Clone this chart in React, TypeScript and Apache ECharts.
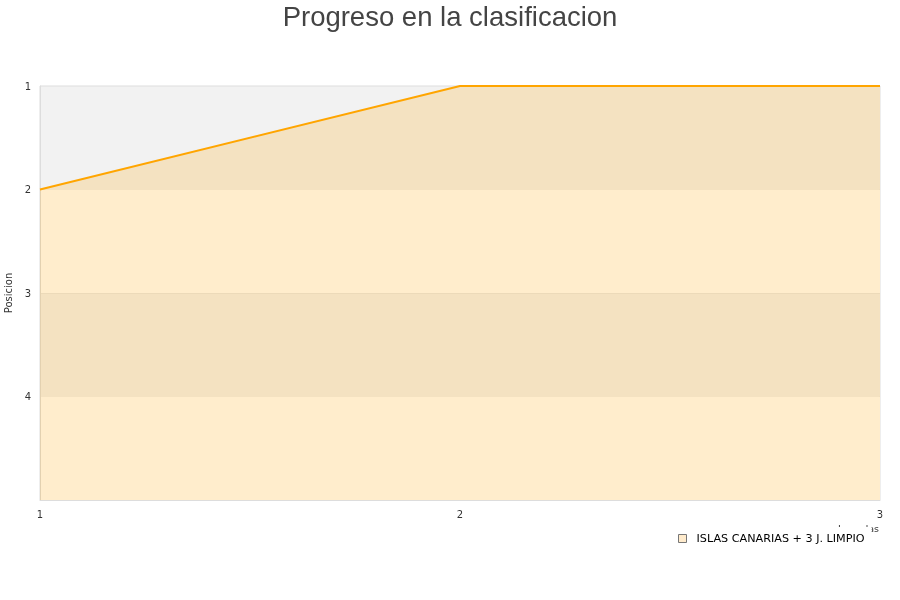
import React, { useEffect, useRef } from "react";
import * as echarts from "echarts";

const jornadas = ["1", "2", "3"];
const posiciones = [2, 1, 1];
const teamName = "ISLAS CANARIAS + 3 J. LIMPIO";
const yTicks = [1, 2, 3, 4];
const xAxisTitle = "Jornadas";

export default function App() {
  const ref = useRef<HTMLDivElement>(null);

  useEffect(() => {
    if (!ref.current) return;
    const chart = echarts.init(ref.current, null, { renderer: "svg" });
    const font = "DejaVu Sans";
    chart.setOption({
      animation: false,
      title: {
        text: "Progreso en la clasificacion",
        left: "center",
        top: -3,
        textStyle: {
          fontFamily: "Liberation Sans",
          fontSize: 27.5,
          fontWeight: "normal",
          color: "#444",
        },
      },
      grid: {
        left: 40,
        right: 20,
        top: 86,
        bottom: 100,
        outerBoundsMode: "none",
        containLabel: false,
        show: true,
        borderColor: "#DDD",
        borderWidth: 1,
        backgroundColor: "transparent",
      },
      // x-axis title sits under the legend box, which hides most of it
      graphic: [
        {
          type: "text",
          z: 0,
          right: 21,
          top: 523,
          style: {
            text: xAxisTitle,
            fontFamily: font,
            fontSize: 9.5,
            fill: "#333",
          },
        },
      ],
      legend: {
        z: 10,
        data: [
          {
            name: teamName,
            icon: "rect",
            itemStyle: { color: "#FFEBCC", borderColor: "#777", borderWidth: 1 },
          },
        ],
        left: 672,
        top: 527,
        itemWidth: 8,
        itemHeight: 8,
        padding: [6, 7, 2, 6],
        backgroundColor: "#fff",
        textStyle: {
          fontFamily: font,
          fontSize: 11.2,
          color: "#000",
          padding: [0, 0, 0, 5],
        },
      },
      xAxis: {
        type: "category",
        data: jornadas,
        boundaryGap: false,
        axisLine: { show: true, lineStyle: { color: "#DDD" } },
        axisTick: { show: false },
        axisLabel: { fontFamily: font, fontSize: 10, color: "#333", margin: 9 },
        splitLine: { show: false },
      },
      yAxis: {
        type: "value",
        inverse: true,
        min: 1,
        max: 5,
        interval: 1,
        name: "Posicion",
        nameLocation: "middle",
        nameGap: 26,
        nameTextStyle: { fontFamily: font, fontSize: 10, color: "#333" },
        axisLine: { show: true, lineStyle: { color: "#DDD" } },
        axisTick: { show: false },
        axisLabel: {
          fontFamily: font,
          fontSize: 10,
          color: "#333",
          margin: 9,
          verticalAlign: "middle",
          formatter: (v: number) => (yTicks.includes(v) ? String(v) : ""),
        },
        splitLine: { show: true, lineStyle: { color: "rgba(0,0,0,0.04)" } },
        splitArea: {
          show: true,
          areaStyle: { color: ["#F2F2F2", "#FFFFFF"] },
        },
      },
      series: [
        {
          name: teamName,
          type: "line",
          data: posiciones,
          symbol: "none",
          lineStyle: { color: "#FFA500", width: 2 },
          itemStyle: { color: "#FFEBCC" },
          areaStyle: { origin: "end", color: "#FFA500", opacity: 0.2 },
        },
      ],
    });
    return () => chart.dispose();
  }, []);

  return (
    <div
      ref={ref}
      style={{ position: "fixed", left: 0, top: 0, width: 900, height: 600 }}
    />
  );
}
